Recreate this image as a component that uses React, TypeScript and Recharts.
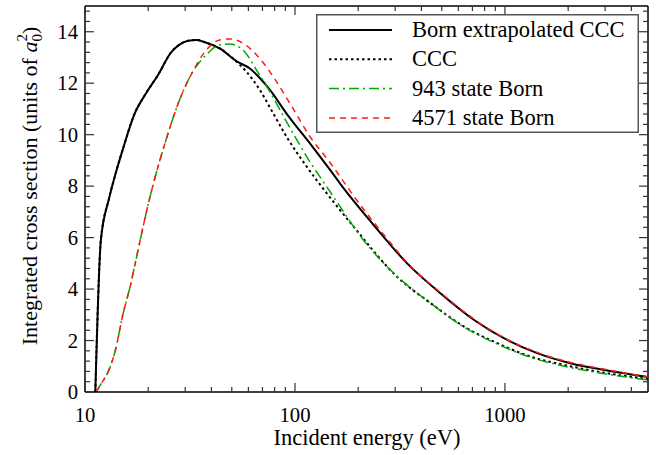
import { LineChart, Line, XAxis, YAxis, ReferenceLine, Legend, Label } from 'recharts';

// Born extrapolated CCC (solid black)
const bornCccEnergy = [11.2, 11.9, 13.0, 14.0, 15.1, 17.2, 19.5, 22.2, 25.7, 28.2, 31, 34, 37, 43.8, 52.8, 61, 68, 76, 91, 122, 147, 164, 237, 342, 494, 713, 993, 1433, 2070, 2987, 4800];
const bornCccValues = [0, 5.9, 7.5, 8.5, 9.4, 10.8, 11.6, 12.3, 13.2, 13.5, 13.65, 13.68, 13.6, 13.35, 12.85, 12.57, 12.2, 11.74, 10.83, 9.5, 8.63, 8.1, 6.49, 5.0, 3.83, 2.8, 2.08, 1.5, 1.11, 0.855, 0.58];

// CCC (dotted black)
const cccEnergy = [11.2, 11.9, 13.0, 14.0, 15.1, 17.2, 19.5, 22.2, 25.7, 28.2, 31, 34, 37, 43.8, 52.6, 58.7, 68, 78.7, 91.2, 113.7, 141.8, 190, 306, 443, 639, 923, 1331, 1922, 2775, 4800];
const cccValues = [0, 5.9, 7.5, 8.5, 9.4, 10.8, 11.6, 12.3, 13.2, 13.5, 13.65, 13.68, 13.6, 13.35, 12.84, 12.45, 11.74, 10.83, 9.92, 8.76, 7.72, 6.43, 4.48, 3.45, 2.54, 1.89, 1.37, 1.05, 0.79, 0.5];

// 943 state Born (green dash-dot)
const born943Energy = [11.3, 12.0, 12.9, 13.9, 15.2, 16.4, 17.9, 19.7, 21.4, 24.3, 28.2, 32.6, 37.8, 43.8, 48.9, 56.6, 65.6, 75.9, 91.2, 113.7, 147, 158, 212, 306, 443, 639, 923, 1331, 1922, 2775, 4800];
const born943Values = [0, 0.35, 0.79, 1.57, 3.06, 4.09, 5.52, 7.07, 8.24, 9.79, 11.35, 12.45, 13.1, 13.49, 13.52, 13.29, 12.51, 11.67, 10.5, 9.15, 7.78, 7.4, 5.9, 4.5, 3.45, 2.52, 1.86, 1.34, 1.0, 0.75, 0.47];

// 4571 state Born (red dashed)
const born4571Energy = [11.3, 12.0, 12.9, 13.9, 15.2, 16.4, 17.9, 19.7, 21.4, 24.3, 28.2, 32.6, 37.8, 43.8, 48.9, 56.6, 68, 78.7, 94.5, 118, 147, 197, 275, 342, 494, 713, 993, 1433, 2070, 2987, 4800];
const born4571Values = [0, 0.35, 0.79, 1.57, 3.06, 4.09, 5.52, 7.07, 8.24, 9.79, 11.35, 12.45, 13.29, 13.68, 13.72, 13.55, 12.96, 12.26, 11.22, 9.92, 8.91, 7.45, 5.95, 5.03, 3.86, 2.83, 2.1, 1.53, 1.14, 0.88, 0.58];

const seriesNames = ['Born extrapolated CCC', 'CCC', '943 state Born', '4571 state Born'];

const xMajor = [10, 100, 1000];
const xMinor = [20, 30, 40, 50, 60, 70, 80, 90, 200, 300, 400, 500, 600, 700, 800, 900, 2000, 3000, 4000];
const yMajor = [0, 2, 4, 6, 8, 10, 12, 14];
const yMinor = [0.4, 0.8, 1.2, 1.6, 2.4, 2.8, 3.2, 3.6, 4.4, 4.8, 5.2, 5.6, 6.4, 6.8, 7.2, 7.6, 8.4, 8.8, 9.2, 9.6, 10.4, 10.8, 11.2, 11.6, 12.4, 12.8, 13.2, 13.6, 14.4, 14.8];

const toPoints = (e: number[], s: number[]) => e.map((v, i) => ({ e: v, s: s[i] }));

const series = [
  { name: seriesNames[0], data: toPoints(bornCccEnergy, bornCccValues), color: '#000000', dash: undefined, width: 2 },
  { name: seriesNames[1], data: toPoints(cccEnergy, cccValues), color: '#000000', dash: '2.5 3', width: 2 },
  { name: seriesNames[2], data: toPoints(born943Energy, born943Values), color: '#00aa00', dash: '10 4 2 4', width: 1.5 },
  { name: seriesNames[3], data: toPoints(born4571Energy, born4571Values), color: '#ff1a1a', dash: '6 5', width: 1.5 },
];

const FONT = 'Liberation Serif, DejaVu Serif, serif';
const W = 656;
const H = 455;
const PLOT_W = 563;
const PLOT_H = 386;

const textStyle = { fontFamily: FONT };

const XTick = (props: any) => {
  const { x, y, payload } = props;
  const v = payload.value;
  const major = xMajor.includes(v);
  const len = major ? 9 : 5;
  return (
    <g>
      <line x1={x} y1={y} x2={x} y2={y - len} stroke="#333" strokeWidth={1.2} />
      <line x1={x} y1={y - PLOT_H} x2={x} y2={y - PLOT_H + len} stroke="#333" strokeWidth={1.2} />
      {major && (
        <text x={x} y={y + 30} textAnchor="middle" style={textStyle} fontSize={20.7} fill="#000">
          {v}
        </text>
      )}
    </g>
  );
};

const YTick = (props: any) => {
  const { x, y, payload } = props;
  const v = payload.value;
  const major = yMajor.includes(v);
  const len = major ? 9 : 5;
  return (
    <g>
      <line x1={x} y1={y} x2={x + len} y2={y} stroke="#333" strokeWidth={1.2} />
      <line x1={x + PLOT_W} y1={y} x2={x + PLOT_W - len} y2={y} stroke="#333" strokeWidth={1.2} />
      {major && (
        <text x={x - 7} y={y + 7} textAnchor="end" style={textStyle} fontSize={20.7} fill="#000">
          {v}
        </text>
      )}
    </g>
  );
};

const XTitle = () => (
  <text x={367} y={445} textAnchor="middle" style={textStyle} fontSize={22.5} fill="#000">
    Incident energy (eV)
  </text>
);

const YTitle = () => (
  <text transform="translate(37,186) rotate(-90)" textAnchor="middle" style={textStyle} fontSize={22} fill="#000">
    {'Integrated cross section (units of '}
    <tspan fontStyle="italic">a</tspan>
    <tspan fontSize={15} dy={5}>0</tspan>
    <tspan fontSize={15} dx={-7.5} dy={-15}>2</tspan>
    <tspan dy={10}>)</tspan>
  </text>
);

const LegendBox = () => (
  <svg width={323} height={119} style={{ display: 'block' }}>
    <rect x={0.75} y={0.75} width={321.5} height={117.5} fill="#fff" stroke="#555" strokeWidth={1.5} />
    {series.map((s, i) => {
      const cy = 16 + i * 29.3;
      return (
        <g key={s.name}>
          <line x1={13} x2={76} y1={cy} y2={cy} stroke={s.color} strokeWidth={s.width} strokeDasharray={s.dash} />
          <text x={96} y={cy + 7} style={textStyle} fontSize={22.5} fill="#000">
            {s.name}
          </text>
        </g>
      );
    })}
  </svg>
);

export default function App() {
  return (
    <div style={{ position: 'absolute', left: 0, top: 0, width: W, height: H, background: '#fff', fontFamily: FONT }}>
      <LineChart width={W} height={H} margin={{ top: 6, right: 8, bottom: 0, left: 0 }}>
        <XAxis
          dataKey="e"
          type="number"
          scale="log"
          domain={[10, 4800]}
          allowDataOverflow
          ticks={[...xMajor, ...xMinor]}
          interval={0}
          height={63}
          tickSize={0}
          tickMargin={0}
          tickLine={false}
          tick={<XTick />}
          axisLine={{ stroke: '#000', strokeWidth: 1.5 }}
        >
          <Label content={<XTitle />} />
        </XAxis>
        <YAxis
          type="number"
          domain={[0, 15]}
          allowDataOverflow
          ticks={[...yMajor, ...yMinor]}
          interval={0}
          width={85}
          tickSize={0}
          tickMargin={0}
          tickLine={false}
          tick={<YTick />}
          axisLine={{ stroke: '#000', strokeWidth: 1.5 }}
        >
          <Label content={<YTitle />} />
        </YAxis>
        <ReferenceLine y={15} stroke="#000" strokeWidth={1.5} />
        <ReferenceLine x={4800} stroke="#000" strokeWidth={1.5} />
        {series.map((s) => (
          <Line
            key={s.name}
            data={s.data}
            dataKey="s"
            name={s.name}
            type="monotone"
            stroke={s.color}
            strokeWidth={s.width}
            strokeDasharray={s.dash}
            dot={false}
            activeDot={false}
            isAnimationActive={false}
          />
        ))}
        <Legend
          layout="vertical"
          align="center"
          verticalAlign="middle"
          content={<LegendBox />}
          wrapperStyle={{ left: 316, top: 14, width: 323, height: 119 }}
        />
      </LineChart>
    </div>
  );
}
